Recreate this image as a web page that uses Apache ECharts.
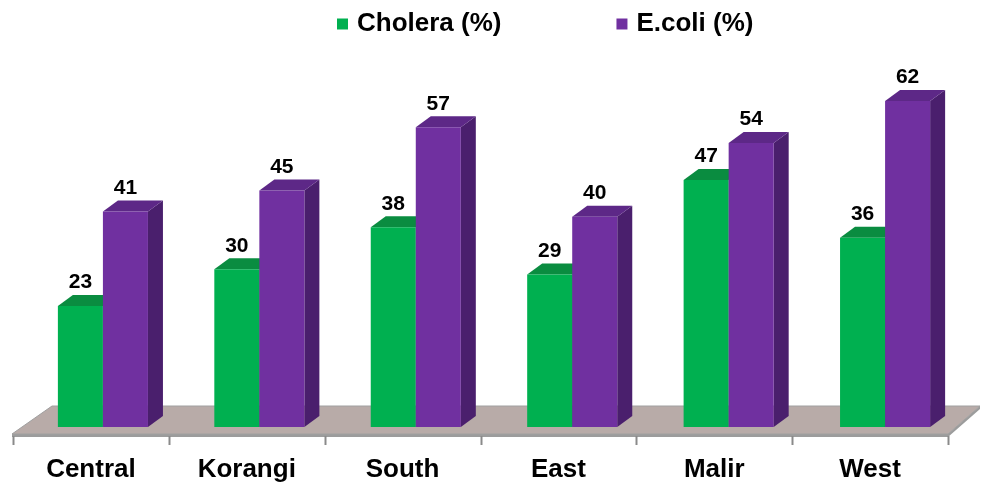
<!DOCTYPE html>
<html>
<head>
<meta charset="utf-8">
<script src="https://cdn.jsdelivr.net/npm/echarts@6/dist/echarts.min.js"></script>
<style>
  html, body { margin: 0; padding: 0; background: #fff; }
  #chart { width: 981px; height: 483px; }
</style>
</head>
<body>
<div id="chart"></div>
<script>
// District names along the floor
const categories = ['Central', 'Korangi', 'South', 'East', 'Malir', 'West'];
// Prevalence per district, in percent
const cholera = [23, 30, 38, 29, 47, 36];
const ecoli = [41, 45, 57, 40, 54, 62];

const FONT = "'Liberation Sans', Arial, Helvetica, sans-serif";
const DX = 15, DY = 11; // depth of each 3-D bar

// Draws one block (front, top, side) with its value above it
function blockRenderer(slot, front, topColor, sideColor) {
  return function (params, api) {
    const idx = api.value(0);
    const val = api.value(1);
    const top = api.coord([idx, val]);
    const base = api.coord([idx, 0]);
    const cw = api.size([1, 0])[0];
    const w = cw * 0.289;
    const x0 = top[0] - cw * 0.212 + idx * 0.6 + slot * w;
    const x1 = x0 + w;
    const yT = top[1], yB = base[1];
    return {
      type: 'group',
      children: [
        { type: 'polygon', shape: { points: [[x1, yT], [x1 + DX, yT - DY], [x1 + DX, yB - DY], [x1, yB]] },
          style: { fill: sideColor } },
        { type: 'polygon', shape: { points: [[x0, yT], [x0 + DX, yT - DY], [x1 + DX, yT - DY], [x1, yT]] },
          style: { fill: topColor } },
        { type: 'rect', shape: { x: x0, y: yT, width: w, height: yB - yT },
          style: { fill: front } },
        { type: 'text', x: (x0 + x1) / 2, y: yT - 13,
          style: { text: String(val), fill: '#000', font: 'bold 21px ' + FONT,
                   align: 'center', verticalAlign: 'bottom' } }
      ]
    };
  };
}

// Gray-pink floor the bars stand on, with its front edge and category ticks
function floorRenderer(params, api) {
  const cs = params.coordSys;
  const yBase = api.coord([0, 0])[1];
  const fy = yBase + 7, by = yBase - 21;
  const fl = cs.x - 1, fr = cs.x + cs.width;
  const bl = cs.x + 39, br = cs.x + cs.width + 32;
  const children = [
    { type: 'polygon', shape: { points: [[fl, fy], [fr, fy], [br, by], [br, by + 3], [fr, fy + 3], [fl, fy + 3]] },
      style: { fill: '#9c9c9c' } },
    { type: 'polygon', shape: { points: [[fl, fy], [fr, fy], [br, by], [bl, by]] },
      style: { fill: '#b8aba8', stroke: '#a0a0a0', lineWidth: 1 } }
  ];
  const n = categories.length;
  for (let i = 0; i <= n; i++) {
    const x = Math.round(cs.x + i * cs.width / n) + 0.5;
    children.push({ type: 'line', shape: { x1: x, y1: fy + 2, x2: x, y2: fy + 11 },
      style: { stroke: '#8a8a8a', lineWidth: 2 } });
  }
  return { type: 'group', children };
}

const chart = echarts.init(document.getElementById('chart'), null, { renderer: 'canvas' });
chart.setOption({
  animation: false,
  backgroundColor: '#ffffff',
  legend: {
    data: ['Cholera (%)', 'E.coli (%)'],
    left: 332,
    top: 6,
    icon: 'rect',
    itemWidth: 11,
    itemHeight: 11,
    itemGap: 115,
    textStyle: { fontFamily: FONT, fontSize: 26, fontWeight: 'bold', color: '#000', padding: [0, 0, 0, 4] }
  },
  grid: { left: 13, right: 33, top: 59, bottom: 53 },
  xAxis: {
    type: 'category',
    data: categories,
    offset: 10,
    axisLine: { show: false },
    axisTick: { show: false },
    axisLabel: { margin: 20, fontFamily: FONT, fontSize: 26, fontWeight: 'bold', color: '#000' }
  },
  yAxis: { type: 'value', min: 0, max: 70, show: false, splitLine: { show: false } },
  series: [
    { type: 'custom', name: 'floor', renderItem: floorRenderer, data: [[0, 0]], silent: true, z: 1 },
    { type: 'custom', name: 'Cholera (%)', itemStyle: { color: '#00b050' }, z: 2,
      renderItem: blockRenderer(0, '#00b050', '#0a8c40', '#067a36'),
      encode: { x: 0, y: 1 },
      data: cholera.map((v, i) => [i, v]) },
    { type: 'custom', name: 'E.coli (%)', itemStyle: { color: '#7030a0' }, z: 3,
      renderItem: blockRenderer(1, '#7030a0', '#5d2887', '#4a1f6d'),
      encode: { x: 0, y: 1 },
      data: ecoli.map((v, i) => [i, v]) }
  ]
});
</script>
</body>
</html>
